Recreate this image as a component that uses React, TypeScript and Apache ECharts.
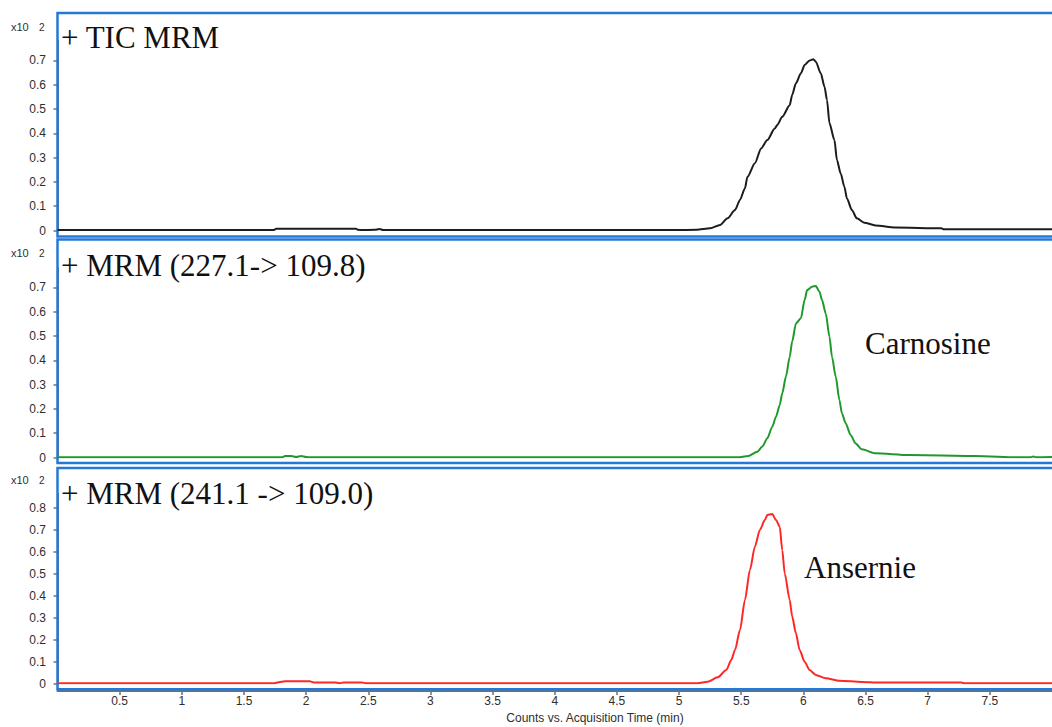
import React, { useEffect, useRef } from "react";
import * as echarts from "echarts";

// ---- data (retention time in min, intensity in x10^2 counts) ----
const ticTime = [0, 1.74, 1.76, 2.40, 2.42, 2.45, 2.55, 2.59, 2.62, 4.98, 5.14, 5.25, 5.33, 5.39, 5.45, 5.49, 5.53, 5.55, 5.61, 5.66, 5.71, 5.77, 5.79, 5.83, 5.89, 5.91, 5.94, 5.98, 6.01, 6.05, 6.08, 6.10, 6.14, 6.17, 6.19, 6.21, 6.25, 6.27, 6.30, 6.33, 6.35, 6.39, 6.43, 6.49, 6.58, 6.74, 7.11, 7.13, 8.0];
const ticValue = [0.002, 0.002, 0.007, 0.007, 0.003, 0.002, 0.003, 0.006, 0.002, 0.002, 0.003, 0.009, 0.023, 0.05, 0.084, 0.126, 0.174, 0.221, 0.277, 0.338, 0.372, 0.42, 0.434, 0.468, 0.516, 0.558, 0.606, 0.647, 0.681, 0.70, 0.705, 0.695, 0.647, 0.592, 0.537, 0.441, 0.372, 0.29, 0.235, 0.18, 0.133, 0.084, 0.05, 0.032, 0.021, 0.012, 0.009, 0.005, 0.005];

const carTime = [0, 1.81, 1.83, 1.88, 1.92, 1.96, 2.00, 2.04, 5.47, 5.556, 5.63, 5.67, 5.71, 5.75, 5.78, 5.81, 5.83, 5.86, 5.89, 5.91, 5.94, 5.98, 6.01, 6.03, 6.07, 6.10, 6.13, 6.15, 6.18, 6.21, 6.23, 6.26, 6.29, 6.31, 6.34, 6.38, 6.42, 6.47, 6.58, 6.85, 7.38, 7.75, 7.83, 7.85, 7.87, 8.0];
const carValue = [0.001, 0.001, 0.006, 0.006, 0.002, 0.006, 0.002, 0.001, 0.001, 0.006, 0.024, 0.045, 0.079, 0.127, 0.168, 0.216, 0.264, 0.333, 0.415, 0.477, 0.552, 0.573, 0.648, 0.689, 0.703, 0.706, 0.682, 0.648, 0.593, 0.497, 0.415, 0.333, 0.237, 0.182, 0.141, 0.093, 0.058, 0.034, 0.017, 0.01, 0.006, 0.001, 0.001, 0.004, 0.001, 0.002];

const ansTime = [0, 1.74, 1.78, 1.83, 2.03, 2.06, 2.23, 2.27, 2.30, 2.45, 2.48, 5.15, 5.23, 5.31, 5.38, 5.42, 5.45, 5.49, 5.53, 5.57, 5.61, 5.65, 5.69, 5.71, 5.75, 5.78, 5.81, 5.83, 5.85, 5.89, 5.91, 5.94, 5.97, 6.01, 6.05, 6.10, 6.18, 6.29, 6.47, 6.61, 7.27, 7.30, 8.0];
const ansValue = [0.001, 0.001, 0.006, 0.01, 0.01, 0.005, 0.005, 0.001, 0.005, 0.005, 0.001, 0.001, 0.008, 0.028, 0.061, 0.107, 0.152, 0.243, 0.38, 0.516, 0.622, 0.698, 0.743, 0.766, 0.77, 0.743, 0.713, 0.607, 0.50, 0.38, 0.304, 0.228, 0.152, 0.099, 0.061, 0.039, 0.024, 0.013, 0.007, 0.004, 0.004, 0.001, 0.001];

const panelTitles = ["+ TIC MRM", "+ MRM (227.1-> 109.8)", "+ MRM (241.1 -> 109.0)"];
const peakNames = ["Carnosine", "Ansernie"];
const yTicks12 = [0, 0.1, 0.2, 0.3, 0.4, 0.5, 0.6, 0.7];
const yTicks3 = [0, 0.1, 0.2, 0.3, 0.4, 0.5, 0.6, 0.7, 0.8];
const xTicks = [0.5, 1, 1.5, 2, 2.5, 3, 3.5, 4, 4.5, 5, 5.5, 6, 6.5, 7, 7.5];
const xAxisName = "Counts vs. Acquisition Time (min)";
const yUnit = "x10";
const yExp = "2";

const pairs = (t: number[], v: number[]) => t.map((x, i) => [x, v[i]]);

const BLUE = "#2479d6";
const AXIS = "#707070";
const LABEL = "#2e2e2e";
const SANS = "'Liberation Sans', Arial, sans-serif";
const SERIF = "'Liberation Serif', 'Times New Roman', serif";

export default function App() {
  const ref = useRef<HTMLDivElement>(null);
  useEffect(() => {
    if (!ref.current) return;
    const chart = echarts.init(ref.current, undefined, { renderer: "svg" });

    const grids = [
      { left: 57.5, top: 41, width: 1000, height: 189.5 },
      { left: 57.5, top: 268, width: 1000, height: 189.5 },
      { left: 57.5, top: 494.3, width: 1000, height: 189.2 },
    ];
    const yMax = [0.78, 0.78, 0.86];
    const yTickSets = [yTicks12, yTicks12, yTicks3];

    const yAxes = grids.map((_, i) => ({
      type: "value",
      gridIndex: i,
      min: 0,
      max: yMax[i],
      interval: 0.1,
      offset: 4.5,
      axisLine: { show: true, lineStyle: { color: AXIS, width: 2 } },
      axisTick: { show: true, length: 4, lineStyle: { color: AXIS, width: 1.5 }, customValues: yTickSets[i] },
      axisLabel: {
        color: LABEL,
        fontSize: 12,
        fontFamily: SANS,
        margin: 7,
        customValues: yTickSets[i],
        formatter: (v: number) => (Math.abs(v) < 1e-9 ? "0" : String(Math.round(v * 10) / 10)),
      },
      splitLine: { show: false },
    }));

    const xAxes = grids.map((_, i) => ({
      type: "value",
      gridIndex: i,
      min: 0,
      max: 8,
      interval: 0.5,
      show: i === 2,
      offset: 7.5,
      axisLine: { show: true, onZero: false, lineStyle: { color: AXIS, width: 2 } },
      axisTick: { show: true, length: 4, lineStyle: { color: AXIS, width: 1.5 }, customValues: xTicks },
      axisLabel: { color: LABEL, fontSize: 12, fontFamily: SANS, margin: 4, customValues: xTicks },
      splitLine: { show: false },
    }));

    const mkSeries = (data: number[][], idx: number, color: string) => ({
      type: "line",
      xAxisIndex: idx,
      yAxisIndex: idx,
      data,
      showSymbol: false,
      symbol: "none",
      smooth: 0.25,
      smoothMonotone: "x",
      lineStyle: { color, width: 2 },
      z: 5,
    });

    const borders = [
      { y: 13, h: 223.5 },
      { y: 239.5, h: 223.5 },
      { y: 468, h: 221.3 },
    ];
    const unitY = [27, 253, 480];
    const titleY = [37, 265, 493];

    const graphic: any[] = [];
    borders.forEach((b) => {
      graphic.push({
        type: "rect",
        z: 1,
        shape: { x: 57.5, y: b.y, width: 1100, height: b.h },
        style: { fill: "none", stroke: BLUE, lineWidth: 2.5 },
      });
    });
    unitY.forEach((y) => {
      graphic.push({ type: "text", x: 11, y, style: { text: yUnit, font: `11px ${SANS}`, fill: LABEL, verticalAlign: "middle" } });
      graphic.push({ type: "text", x: 39, y, style: { text: yExp, font: `10px ${SANS}`, fill: LABEL, verticalAlign: "middle" } });
    });
    titleY.forEach((y, i) => {
      graphic.push({ type: "text", x: 61, y, style: { text: panelTitles[i], font: `31px ${SERIF}`, fill: "#111", verticalAlign: "middle" } });
    });
    graphic.push({ type: "text", x: 865, y: 343, style: { text: peakNames[0], font: `31px ${SERIF}`, fill: "#111", verticalAlign: "middle" } });
    graphic.push({ type: "text", x: 804, y: 567, style: { text: peakNames[1], font: `31px ${SERIF}`, fill: "#111", verticalAlign: "middle" } });
    graphic.push({ type: "text", x: 595, y: 718, style: { text: xAxisName, font: `12px ${SANS}`, fill: LABEL, align: "center", verticalAlign: "middle" } });

    chart.setOption({
      animation: false,
      backgroundColor: "#fff",
      grid: grids,
      xAxis: xAxes,
      yAxis: yAxes,
      series: [
        mkSeries(pairs(ticTime, ticValue), 0, "#1c1c1c"),
        mkSeries(pairs(carTime, carValue), 1, "#1f9a2a"),
        mkSeries(pairs(ansTime, ansValue), 2, "#ff2626"),
      ],
      graphic,
    } as any);

    return () => chart.dispose();
  }, []);

  return <div ref={ref} style={{ position: "absolute", left: 0, top: 0, width: 1052, height: 727 }} />;
}
